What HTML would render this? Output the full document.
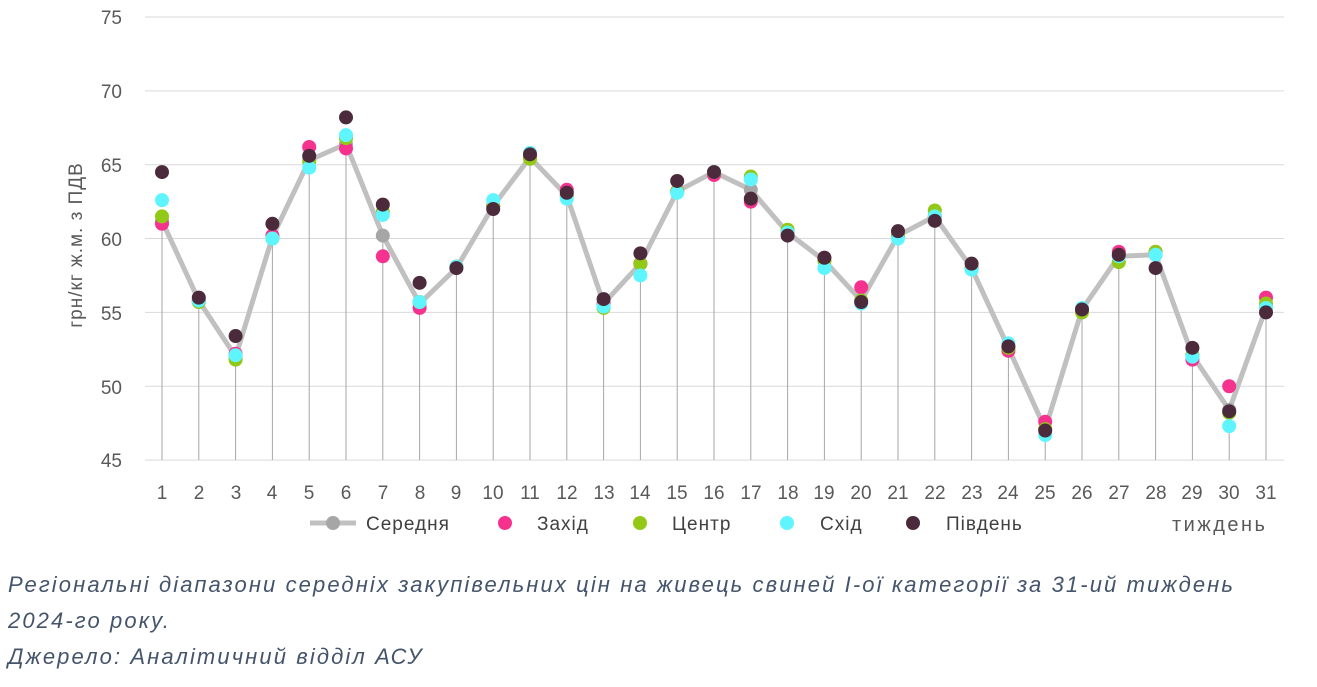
<!DOCTYPE html>
<html><head><meta charset="utf-8"><style>
body{margin:0;background:#fff;width:1317px;height:687px;overflow:hidden;font-family:"Liberation Sans",sans-serif}
svg{position:absolute;left:0;top:0}
.cap{position:absolute;left:8px;top:567px;font-style:italic;font-size:22px;letter-spacing:2.1px;line-height:36px;color:#44546a;font-family:"Liberation Sans",sans-serif;white-space:nowrap}
</style></head><body>
<svg id="s" width="1317" height="560" font-family="Liberation Sans, sans-serif">
<g fill="#595959" font-size="19" text-anchor="end">
<text x="122" y="24">75</text><text x="122" y="98">70</text><text x="122" y="172">65</text><text x="122" y="246">60</text><text x="122" y="320">55</text><text x="122" y="394">50</text><text x="122" y="467">45</text>
</g>
<text transform="translate(82,245) rotate(-90)" fill="#595959" font-size="19" letter-spacing="1" text-anchor="middle">грн/кг ж.м. з ПДВ</text>
<g id="xl" fill="#595959" font-size="19" text-anchor="middle">
<text x="162" y="499">1</text><text x="199" y="499">2</text><text x="236" y="499">3</text><text x="272" y="499">4</text><text x="309" y="499">5</text><text x="346" y="499">6</text><text x="383" y="499">7</text><text x="420" y="499">8</text><text x="456" y="499">9</text><text x="493" y="499">10</text><text x="530" y="499">11</text><text x="567" y="499">12</text><text x="604" y="499">13</text><text x="640" y="499">14</text><text x="677" y="499">15</text><text x="714" y="499">16</text><text x="751" y="499">17</text><text x="788" y="499">18</text><text x="824" y="499">19</text><text x="861" y="499">20</text><text x="898" y="499">21</text><text x="935" y="499">22</text><text x="972" y="499">23</text><text x="1008" y="499">24</text><text x="1045" y="499">25</text><text x="1082" y="499">26</text><text x="1119" y="499">27</text><text x="1156" y="499">28</text><text x="1192" y="499">29</text><text x="1229" y="499">30</text><text x="1266" y="499">31</text>
</g>
<g font-size="19" fill="#404040" letter-spacing="1">
<line x1="310" y1="523" x2="356" y2="523" stroke="#c0c0c0" stroke-width="5"/><circle cx="333" cy="523" r="7" fill="#a6a6a6"/>
<text x="366" y="530">Середня</text>
<circle cx="505" cy="523" r="7" fill="#f5338f"/><text x="537" y="530">Захід</text>
<circle cx="640" cy="523" r="7" fill="#92c816"/><text x="672" y="530">Центр</text>
<circle cx="787" cy="523" r="7" fill="#5ff5ff"/><text x="820" y="530">Схід</text>
<circle cx="913" cy="523" r="7" fill="#4b2a3b"/><text x="946" y="530">Південь</text>
<text x="1172" y="531" fill="#595959" font-size="20" letter-spacing="2.5">тиждень</text>
</g>
</svg>
<div class="cap">Регіональні діапазони середніх закупівельних цін на живець свиней І-ої категорії за 31-ий тиждень<br>2024-го року.<br>Джерело: Аналітичний відділ АСУ</div>
<script>
var avg=[61.2,55.8,52,60.1,65.3,66.4,60.2,55.6,58,62.2,65.5,62.9,55.6,58.3,63.2,64.5,63.3,60.4,58.5,55.8,60.2,61.5,58,52.6,47.1,55.2,58.8,58.9,52.1,48.4,55.3];
var W=[61,55.8,52.2,60.2,66.2,66.1,58.8,55.3,58.1,62.2,65.5,63.3,55.6,58.3,63.2,64.3,62.5,60.4,58.7,56.7,60.2,61.5,58,52.4,47.6,55.2,59.1,59.1,51.8,50,56];
var C=[61.5,55.7,51.8,60,65.2,66.8,61.8,55.7,58.1,62.2,65.4,62.9,55.3,58.3,63.2,64.5,64.2,60.6,58.5,55.8,60.2,61.9,58,52.6,47.1,55,58.4,59.1,52.1,48.2,55.6];
var E=[62.6,55.8,52.1,60,64.8,67,61.6,55.7,58.1,62.6,65.8,62.7,55.4,57.5,63.1,64.5,64,60.4,58,55.6,60,61.5,57.9,52.9,46.7,55.3,58.8,58.9,52,47.3,55.3];
var S=[64.5,56,53.4,61,65.6,68.2,62.3,57,58,62,65.7,63.1,55.9,59,63.9,64.5,62.7,60.2,58.7,55.7,60.5,61.2,58.3,52.7,47,55.2,58.9,58,52.6,48.3,55];
function X(i){return 162+i*36.8}function Y(v){return 17+(75-v)*14.77}
var h='';
for(var v=45;v<=75;v+=5)h+='<line x1="145" x2="1284" y1="'+Y(v)+'" y2="'+Y(v)+'" stroke="#d9d9d9" stroke-width="1"/>';
for(var i=0;i<31;i++)h+='<line x1="'+X(i)+'" x2="'+X(i)+'" y1="'+Y(avg[i])+'" y2="460" stroke="#a6a6a6" stroke-width="1"/>';
h+='<polyline fill="none" stroke="#c0c0c0" stroke-width="5" stroke-linejoin="round" points="'+avg.map(function(v,i){return X(i)+','+Y(v)}).join(' ')+'"/>';
[[avg,'#a6a6a6'],[W,'#f5338f'],[C,'#92c816'],[E,'#5ff5ff'],[S,'#4b2a3b']].forEach(function(s){s[0].forEach(function(v,i){h+='<circle cx="'+X(i)+'" cy="'+Y(v)+'" r="7" fill="'+s[1]+'"/>'})});
var svg=document.getElementById('s');svg.insertAdjacentHTML('afterbegin',h);
</script>
</body></html>
